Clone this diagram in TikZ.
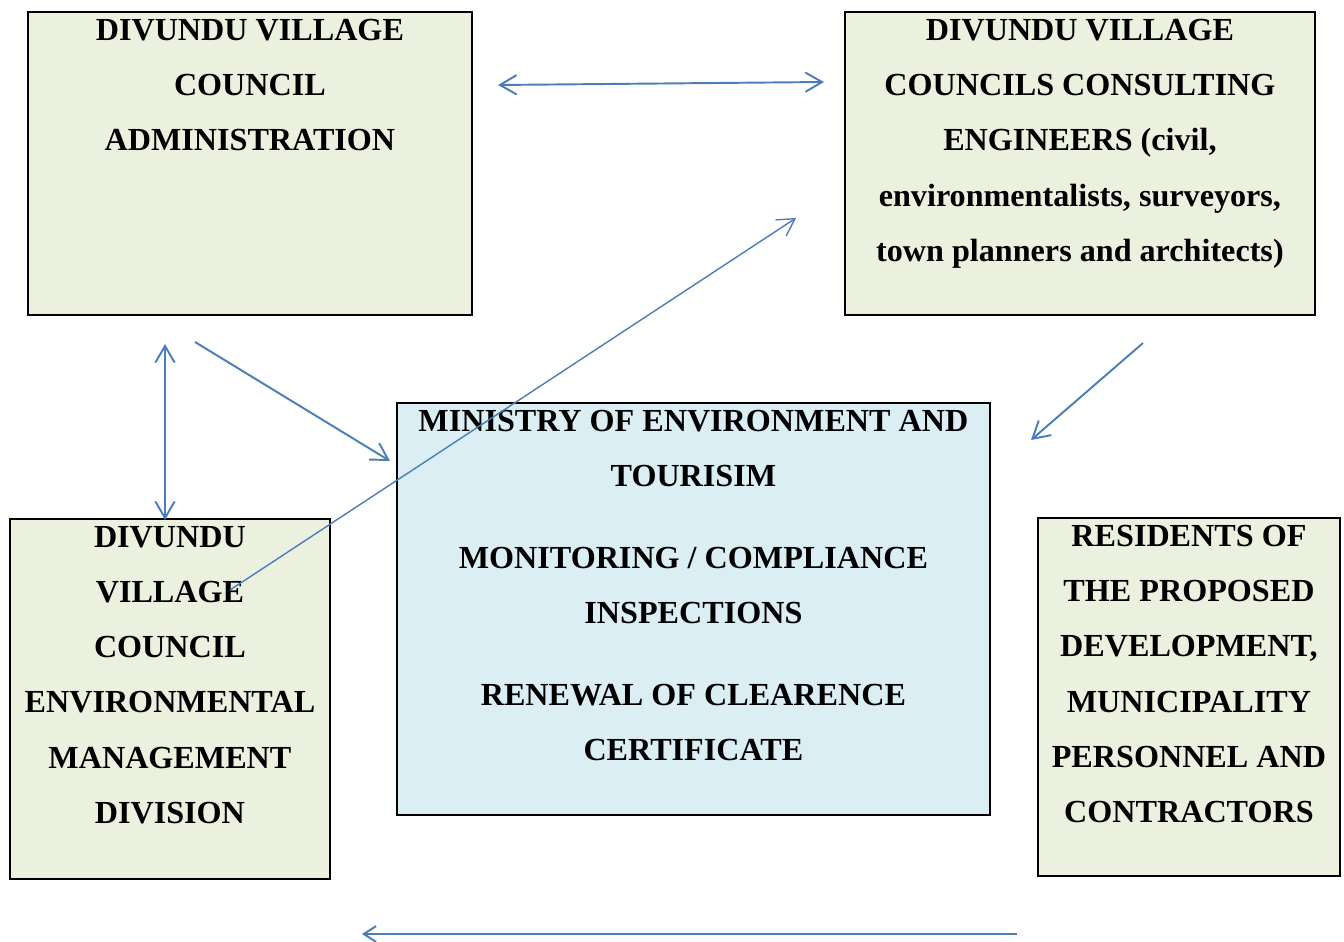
\documentclass[tikz,border=0pt]{standalone}
\usepackage{fontspec}
\setmainfont{Liberation Serif}
\usepackage{tikz}
\usetikzlibrary{positioning, arrows.meta}
\usepackage{xcolor}
\definecolor{boxgreen}{HTML}{EBF1DE}
\definecolor{boxblue}{HTML}{DAEEF3}
\definecolor{arrowblue}{HTML}{4A7EBB}

\tikzset{
  panel/.style={draw, line width=1.1pt, anchor=north west},
  caption/.style={align=center, inner sep=0pt, font=\fontsize{18.3}{31.4}\selectfont\bfseries},
  flow/.style={draw=arrowblue, line width=1.1pt, -{Straight Barb[length=9.5pt, width=11pt]}},
  twoway/.style={draw=arrowblue, line width=1.1pt, {Straight Barb[length=9.5pt, width=11pt]}-{Straight Barb[length=9.5pt, width=11pt]}}
}

\begin{document}
\begin{tikzpicture}[x=0.02cm, y=-0.02cm]
  \useasboundingbox (0,0) rectangle (1344,942);

  \node[panel, fill=boxgreen, minimum width=8.88cm, minimum height=6.06cm] (admin) at (27,11) {};
  \node[caption, below=0.16cm of admin.north] (admintxt) {DIVUNDU VILLAGE\\COUNCIL\\ADMINISTRATION};

  \node[panel, fill=boxgreen, minimum width=9.4cm, minimum height=6.06cm] (engineers) at (844,11) {};
  \node[caption, below=0.16cm of engineers.north] (engtxt) {DIVUNDU VILLAGE\\COUNCILS CONSULTING\\ENGINEERS (civil,\\environmentalists, surveyors,\\town planners and architects)};

  \node[panel, fill=boxblue, minimum width=11.86cm, minimum height=8.24cm] (ministry) at (396,402) {};
  \node[caption, below=0.16cm of ministry.north] (mintxt) {MINISTRY OF ENVIRONMENT AND\\TOURISIM\\[15pt]MONITORING / COMPLIANCE\\INSPECTIONS\\[15pt]RENEWAL OF CLEARENCE\\CERTIFICATE};

  \node[panel, fill=boxgreen, minimum width=6.4cm, minimum height=7.2cm] (envdiv) at (9,518) {};
  \node[caption, below=0.16cm of envdiv.north] (envtxt) {DIVUNDU\\VILLAGE\\COUNCIL\\ENVIRONMENTAL\\MANAGEMENT\\DIVISION};

  \node[panel, fill=boxgreen, minimum width=6.04cm, minimum height=7.16cm] (residents) at (1037,517) {};
  \node[caption, below=0.16cm of residents.north] (restxt) {RESIDENTS OF\\THE PROPOSED\\DEVELOPMENT,\\MUNICIPALITY\\PERSONNEL AND\\CONTRACTORS};

  \coordinate (adminE) at (498,85);
  \coordinate (engW) at (824,82);
  \coordinate (adminS) at (165,344);
  \coordinate (envN) at (165,520);
  \coordinate (adminSE) at (195,342);
  \coordinate (minNW) at (390,461);
  \coordinate (envIn) at (230,590);
  \coordinate (engSW) at (796,218);
  \coordinate (engS) at (1143,343);
  \coordinate (minNE) at (1031,440);
  \coordinate (resBelow) at (1017,934);
  \coordinate (envBelow) at (362,934);

  \draw[twoway] (adminE) -- (engW);
  \draw[twoway] (adminS) -- (envN);
  \draw[flow] (adminSE) -- (minNW);
  \draw[flow, line width=0.8pt] (envIn) -- (engSW);
  \draw[flow] (engS) -- (minNE);
  \draw[flow, -{Straight Barb[length=7pt, width=9pt]}] (resBelow) -- (envBelow);
\end{tikzpicture}
\end{document}
